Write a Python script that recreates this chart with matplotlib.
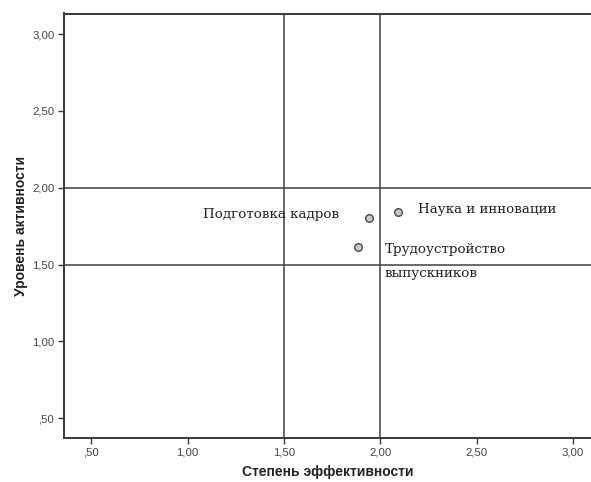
import matplotlib
matplotlib.use("Agg")
import matplotlib.pyplot as plt

# Data
labels = ["Наука и инновации", "Подготовка кадров", "Трудоустройство\nвыпускников"]
effectiveness = [2.09, 1.94, 1.886]
activity = [1.843, 1.805, 1.615]
label_offsets = [(14.5, 1.5), (-21, 2), (19, 3)]
label_ha = ["left", "right", "left"]
ref_x = [1.5, 2.0]
ref_y = [1.5, 2.0]
ticks = [0.5, 1.0, 1.5, 2.0, 2.5, 3.0]
tick_labels = [",50", "1,00", "1,50", "2,00", "2,50", "3,00"]

fig = plt.figure(figsize=(5.91, 4.82), dpi=100)
ax = fig.add_axes([64/591, 44/482, 1 - 64/591, (438-13.5)/482])

line_col = "#404040"
for v in ref_x:
    ax.axvline(v, color=line_col, lw=1.1, zorder=1)
for v in ref_y:
    ax.axhline(v, color=line_col, lw=1.1, zorder=1)

ax.scatter(effectiveness, activity, s=30, facecolor="#c8c8c8", edgecolor="#4a4a4a",
           linewidths=1.0, zorder=3)

for x, y, t, off, ha in zip(effectiveness, activity, labels, label_offsets, label_ha):
    ax.annotate(t, (x, y), xytext=off, textcoords="offset points", ha=ha,
                va="top" if "\n" in t else "center",
                fontsize=9.7, family="DejaVu Serif", color="#222222",
                linespacing=2.1 if "\n" in t else 1.0)

ax.set_xlim(0.358, 3.094)
ax.set_ylim(0.37, 3.135)
ax.set_xticks(ticks)
ax.set_xticklabels(tick_labels)
ax.set_yticks(ticks)
ax.set_yticklabels(tick_labels)

for s in ["left", "bottom", "top"]:
    ax.spines[s].set_color("#3a3a3a")
    ax.spines[s].set_linewidth(1.4)
ax.spines["right"].set_visible(False)

ax.tick_params(axis="both", direction="out", length=4, width=1.0, color="#3a3a3a",
               labelsize=8.2, labelcolor="#444444", pad=3)
for lab in ax.get_xticklabels() + ax.get_yticklabels():
    lab.set_family("Liberation Sans")

ax.set_xlabel("Степень эффективности", fontsize=10, fontweight="bold",
              family="Liberation Sans", color="#222222", labelpad=5)
ax.set_ylabel("Уровень активности", fontsize=10, fontweight="bold",
              family="Liberation Sans", color="#222222", labelpad=3)

fig.savefig("out.png", dpi=100)
